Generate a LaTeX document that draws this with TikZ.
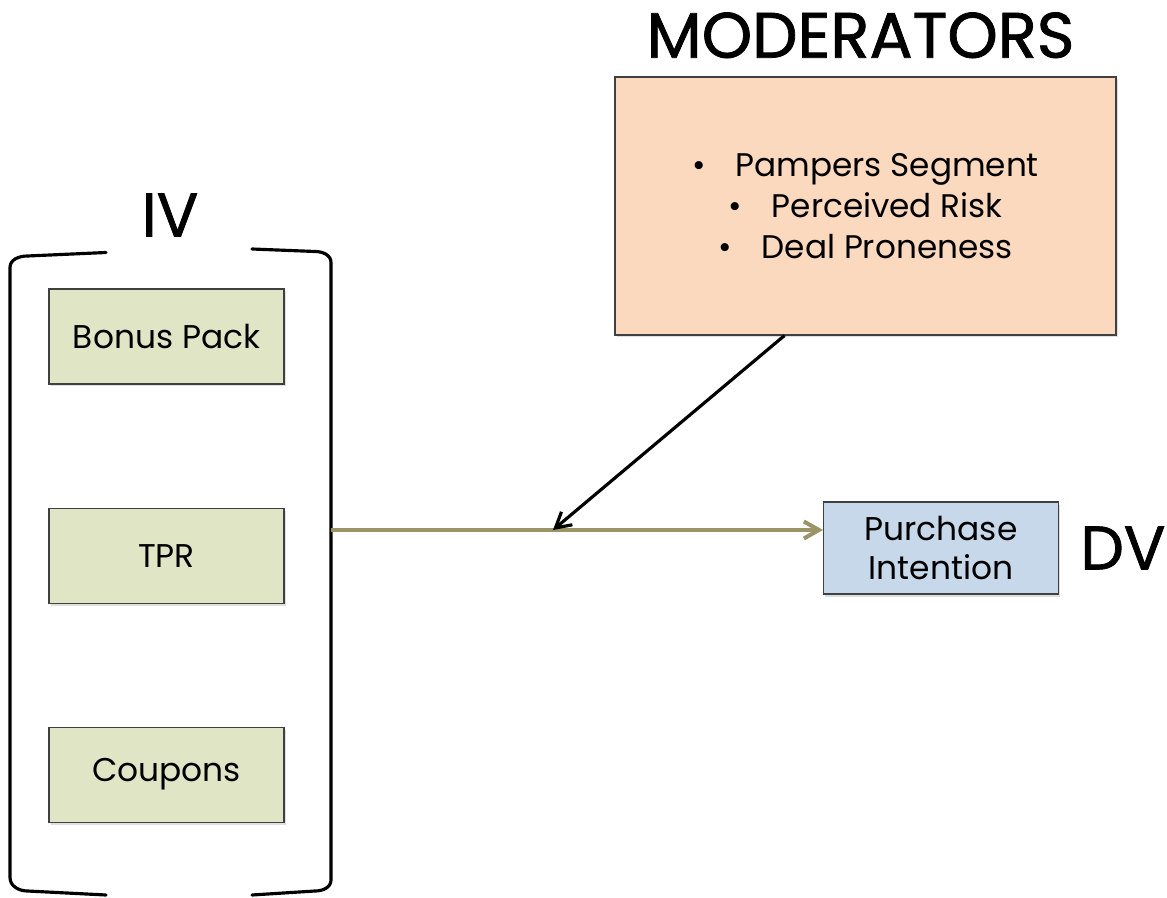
\documentclass[tikz,border=0pt]{standalone}
\usepackage{fontspec}
\setmainfont{Poppins}
\newfontfamily\headfont{Poppins}[FakeBold=1.2]
\usetikzlibrary{arrows.meta,positioning,shadows}

\definecolor{ivgreen}{HTML}{DFE5C5}
\definecolor{dvblue}{HTML}{C6D8E9}
\definecolor{modpeach}{HTML}{FBD9BF}
\definecolor{flowolive}{HTML}{9A9466}

\begin{document}
\begin{tikzpicture}[
      node distance=2.46cm,
      box/.style={draw=black!75, line width=0.6pt, align=center,
        minimum width=4.7cm, minimum height=1.9cm,
        font=\fontsize{18.7}{22.7}\selectfont,
        drop shadow={opacity=0.25, shadow xshift=0.03cm, shadow yshift=-0.05cm}},
      ivbox/.style={box, fill=ivgreen},
      dvbox/.style={box, fill=dvblue},
      modbox/.style={box, fill=modpeach, minimum width=10.02cm, minimum height=5.16cm,
        font=\fontsize{18.6}{23.3}\selectfont},
      heading/.style={inner sep=0pt, font=\headfont\fontsize{35}{38}\selectfont},
      flow/.style={-{Straight Barb[length=0.3cm, width=0.34cm]}, line width=2.3pt, draw=flowolive},
      modflow/.style={-{Straight Barb[length=0.3cm, width=0.34cm]}, line width=1.8pt}
    ]
    \useasboundingbox (0,0) rectangle (23.34,-17.96);

    % independent variables inside the bracket
    \node[ivbox] (bonus) at (3.33,-6.73) {Bonus Pack};
    \node[ivbox, below=of bonus] (tpr) {TPR};
    \node[ivbox, below=of tpr] (coupons) {Coupons};

    \draw[line width=1.8pt, line cap=round]
      (2.12,-5.05) -- (0.55,-5.12) to[out=180,in=90] (0.2,-5.35) -- (0.2,-17.55)
      to[out=-90,in=180] (0.55,-17.82) -- (2.12,-17.9);
    \draw[line width=1.8pt, line cap=round]
      (5.04,-4.98) -- (6.3,-5.03) to[out=0,in=90] (6.62,-5.25) -- (6.62,-17.6)
      to[out=-90,in=0] (6.3,-17.82) -- (5.04,-17.9);
    \node[heading] (iv) at (3.4,-4.3) {IV};

    % moderators
    \node[modbox] (mod) at (17.31,-4.12)
      {\textbullet\hspace{0.6cm}Pampers Segment\\
       \textbullet\hspace{0.6cm}Perceived Risk\\
       \textbullet\hspace{0.6cm}Deal Proneness};
    \node[heading, font=\headfont\fontsize{36.5}{40}\selectfont, above=0.36cm of mod, xshift=-0.1cm] (modtitle) {MODERATORS};

    % dependent variable
    \node[dvbox, minimum height=1.84cm] (pi) at (18.82,-10.96) {Purchase\\Intention};
    \node[heading, right=0.42cm of pi] (dv) {DV};

    \coordinate (ivout) at (6.62,-10.6);
    \coordinate (join) at (11.06,-10.6);
    \coordinate (modfoot) at ([xshift=3.4cm]mod.south west);

    \draw[flow] (ivout) -- (pi.west |- ivout);
    \draw[modflow] (modfoot) -- (join);
  \end{tikzpicture}
\end{document}
